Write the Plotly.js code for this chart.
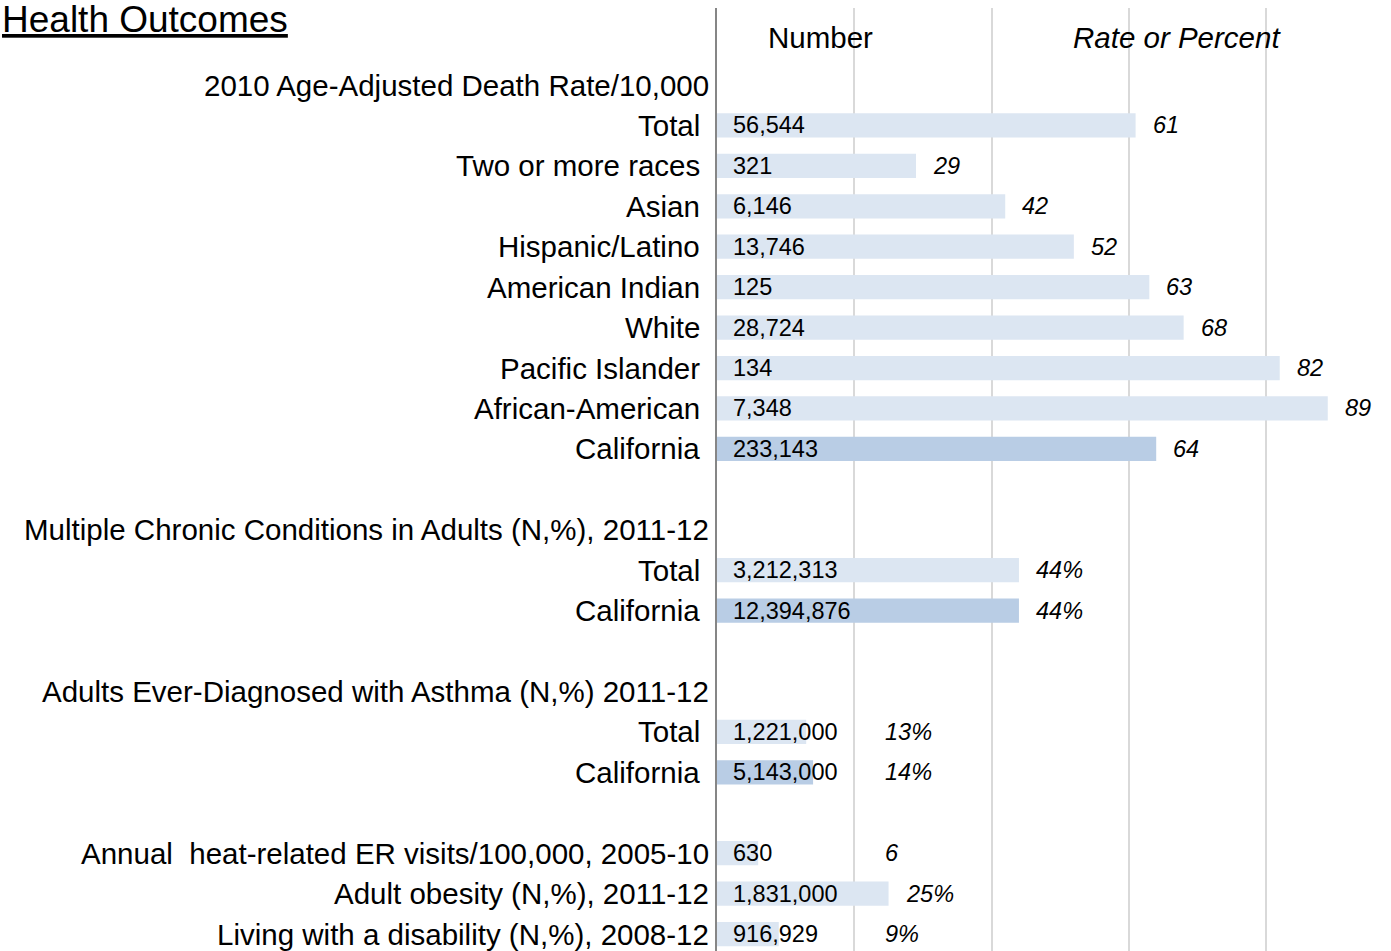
<!DOCTYPE html>
<html>
<head>
<meta charset="utf-8">
<script src="https://cdn.plot.ly/plotly-3.0.1.min.js"></script>
<style>html,body{margin:0;padding:0;background:#fff;}#chart{width:1391px;height:951px;}</style>
</head>
<body>
<div id="chart"></div>
<script>
// ---- data ----
const rowLabels = [
  '2010 Age-Adjusted Death Rate/10,000',
  'Total', 'Two or more races', 'Asian', 'Hispanic/Latino', 'American Indian',
  'White', 'Pacific Islander', 'African-American', 'California',
  '',
  'Multiple Chronic Conditions in Adults (N,%), 2011-12',
  'Total', 'California',
  '',
  'Adults Ever-Diagnosed with Asthma (N,%) 2011-12',
  'Total', 'California',
  '',
  'Annual  heat-related ER visits/100,000, 2005-10',
  'Adult obesity (N,%), 2011-12',
  'Living with a disability (N,%), 2008-12'
];
const rowKind = ['head','item','item','item','item','item','item','item','item','item','blank',
  'head','item','item','blank','head','item','item','blank','single','single','single'];
const numbers = [null,'56,544','321','6,146','13,746','125','28,724','134','7,348','233,143',null,
  null,'3,212,313','12,394,876',null,null,'1,221,000','5,143,000',null,'630','1,831,000','916,929'];
const rates = [null,61,29,42,52,63,68,82,89,64,null,
  null,44,44,null,null,13,14,null,6,25,9];
const rateLabels = ['','61','29','42','52','63','68','82','89','64','',
  '','44%','44%','','','13%','14%','','6','25%','9%'];
const headerNumber = 'Number';
const headerRate = 'Rate or Percent';
const chartTitle = 'Health Outcomes';

// ---- layout helpers ----
const W = 1391, H = 951;
const M = {l: 717, r: 0, t: 8, b: 0};
const PW = W - M.l - M.r, PH = H - M.t - M.b;
const pxX = px => (px - M.l) / PW;
const pxY = py => 1 - (py - M.t) / PH;
const FONT = 'Liberation Sans, Arial, sans-serif';
const lightBlue = '#dce6f2', darkBlue = '#b9cde5';

const idx = rowLabels.map((_, i) => i);
const barColors = rowLabels.map(l => l === 'California' ? darkBlue : lightBlue);

const annotations = [];
// title
annotations.push({xref:'paper', yref:'paper', x:pxX(0), y:pxY(0), xanchor:'left', yanchor:'top', yshift:3,
  text:'<u>' + chartTitle + '</u>', showarrow:false, font:{family:FONT, size:37, color:'#000'}});
annotations.push({xref:'paper', yref:'paper', x:pxX(820), y:pxY(37), xanchor:'center', yanchor:'middle',
  text:headerNumber, showarrow:false, font:{family:FONT, size:29.5, color:'#000'}});
annotations.push({xref:'paper', yref:'paper', x:pxX(1177), y:pxY(37), xanchor:'center', yanchor:'middle',
  text:headerRate, showarrow:false, font:{family:FONT, size:29.5, color:'#000', style:'italic'}});

rowLabels.forEach((lab, i) => {
  if (lab) {
    annotations.push({xref:'x', yref:'y', x:0, y:i, xanchor:'right', yanchor:'middle',
      xshift: rowKind[i] === 'item' ? -15 : -6,
      text:lab, showarrow:false, font:{family:FONT, size:29.5, color:'#000'}});
  }
  if (numbers[i]) {
    annotations.push({xref:'x', yref:'y', x:0, y:i, xanchor:'left', yanchor:'middle', xshift:14,
      text:numbers[i], showarrow:false, font:{family:FONT, size:23.5, color:'#000'}});
  }
  if (rates[i] !== null) {
    annotations.push({xref:'x', yref:'y', x:Math.max(rates[i], 22), y:i, xanchor:'left', yanchor:'middle', xshift:15,
      text:rateLabels[i], showarrow:false, font:{family:FONT, size:23.5, color:'#000', style:'italic'}});
  }
});

const trace = {
  type:'bar', orientation:'h', x:rates, y:idx, width:0.6,
  marker:{color:barColors, line:{width:0}}, hoverinfo:'none', showlegend:false
};

const rowPx = 40.43;
const yTop = -(85 - M.t) / rowPx;
const yBot = yTop + PH / rowPx;
const xMax = PW / (137.25 / 20);

const layout = {
  width:W, height:H, margin:M, paper_bgcolor:'#fff', plot_bgcolor:'#fff',
  showlegend:false,
  xaxis:{range:[0, xMax], dtick:20, tick0:0, showgrid:true, gridcolor:'#d9d9d9', gridwidth:2,
    zeroline:false, showline:false, showticklabels:false, ticks:'', fixedrange:true},
  yaxis:{range:[yBot, yTop], showgrid:false, zeroline:false, showline:true, linecolor:'#868686', linewidth:2,
    showticklabels:false, ticks:'', fixedrange:true},
  annotations:annotations
};

Plotly.newPlot('chart', [trace], layout, {staticPlot:true, displayModeBar:false});
</script>
</body>
</html>
